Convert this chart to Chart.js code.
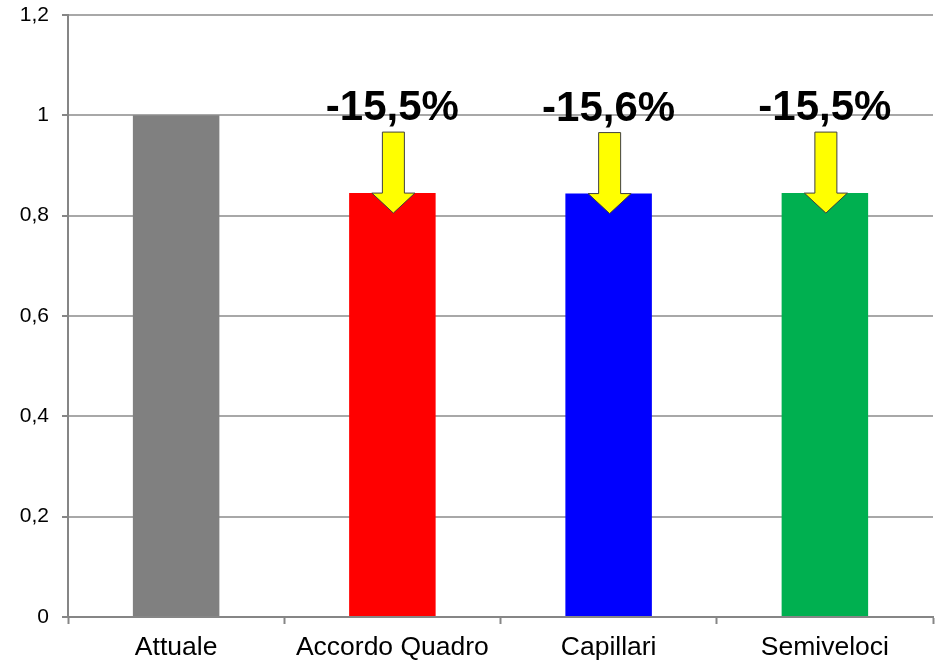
<!DOCTYPE html>
<html lang="it">
<head>
  <meta charset="UTF-8" />
  <title>Confronto scenari</title>
  <script src="https://cdn.jsdelivr.net/npm/chart.js"></script>
  <style>
    body {
      margin: 0;
      padding: 0;
      background: #ffffff;
    }
    #wrap {
      width: 935px;
      height: 664px;
    }
  </style>
</head>
<body>
  <div id="wrap">
    <canvas id="scenari" width="935" height="664"></canvas>
  </div>

  <script>
    const categories = ['Attuale', 'Accordo Quadro', 'Capillari', 'Semiveloci'];
    const values = [1, 0.845, 0.844, 0.845];
    const barColors = ['#808080', '#ff0000', '#0000ff', '#00b050'];
    const yTickLabels = ['0', '0,2', '0,4', '0,6', '0,8', '1', '1,2'];

    const FONT = 'Arial, "Liberation Sans", sans-serif';

    // yellow down arrow + percentage change over each non-baseline bar
    const arrowPlugin = {
      id: 'arrows',
      afterDatasetsDraw(chart) {
        const c = chart.ctx;
        const meta = chart.getDatasetMeta(0);
        meta.data.forEach((bar, i) => {
          if (i === 0) return;
          const x = bar.x + 1;
          const top = bar.y;

          c.save();
          c.beginPath();
          c.moveTo(x - 11, top - 61);
          c.lineTo(x + 11, top - 61);
          c.lineTo(x + 11, top);
          c.lineTo(x + 21.5, top);
          c.lineTo(x, top + 20);
          c.lineTo(x - 21.5, top);
          c.lineTo(x - 11, top);
          c.closePath();
          c.fillStyle = '#ffff00';
          c.fill();
          c.lineWidth = 1;
          c.strokeStyle = '#404040';
          c.stroke();

          const pct = (values[i] / values[0] - 1) * 100;
          const txt = pct.toFixed(1).replace('.', ',') + '%';
          c.fillStyle = '#000000';
          c.font = 'bold 42px ' + FONT;
          c.textAlign = 'center';
          c.textBaseline = 'alphabetic';
          c.fillText(txt, bar.x, top - 73);
          c.restore();
        });
      }
    };

    const ctx = document.getElementById('scenari').getContext('2d');
    new Chart(ctx, {
      type: 'bar',
      data: {
        labels: categories,
        datasets: [{
          data: values,
          backgroundColor: barColors,
          borderWidth: 0,
          barPercentage: 0.4,
          categoryPercentage: 1
        }]
      },
      options: {
        responsive: false,
        animation: false,
        layout: { padding: { top: 15, right: 2, left: 0, bottom: 0 } },
        plugins: {
          legend: { display: false },
          tooltip: { enabled: false }
        },
        scales: {
          x: {
            afterFit: s => { s.height = 47; s.paddingLeft = 0; s.paddingRight = 0; },
            grid: {
              drawOnChartArea: false,
              drawTicks: true,
              tickLength: 7,
              tickColor: '#868686',
              tickWidth: 2,
              offset: true
            },
            border: { color: '#868686', width: 2 },
            ticks: {
              color: '#000000',
              font: { family: FONT, size: 26.5 },
              padding: 8,
              maxRotation: 0
            }
          },
          y: {
            min: 0,
            max: 1.2,
            afterFit: s => { s.width = 68; s.paddingTop = 0; s.paddingBottom = 0; },
            grid: {
              color: '#a8a8a8',
              lineWidth: 2,
              tickLength: 6,
              tickColor: '#868686',
              tickWidth: 2
            },
            border: { color: '#868686', width: 2 },
            ticks: {
              stepSize: 0.2,
              color: '#000000',
              font: { family: FONT, size: 21 },
              padding: 13,
              callback: (val, idx) => yTickLabels[idx]
            }
          }
        }
      },
      plugins: [arrowPlugin]
    });
  </script>
</body>
</html>
